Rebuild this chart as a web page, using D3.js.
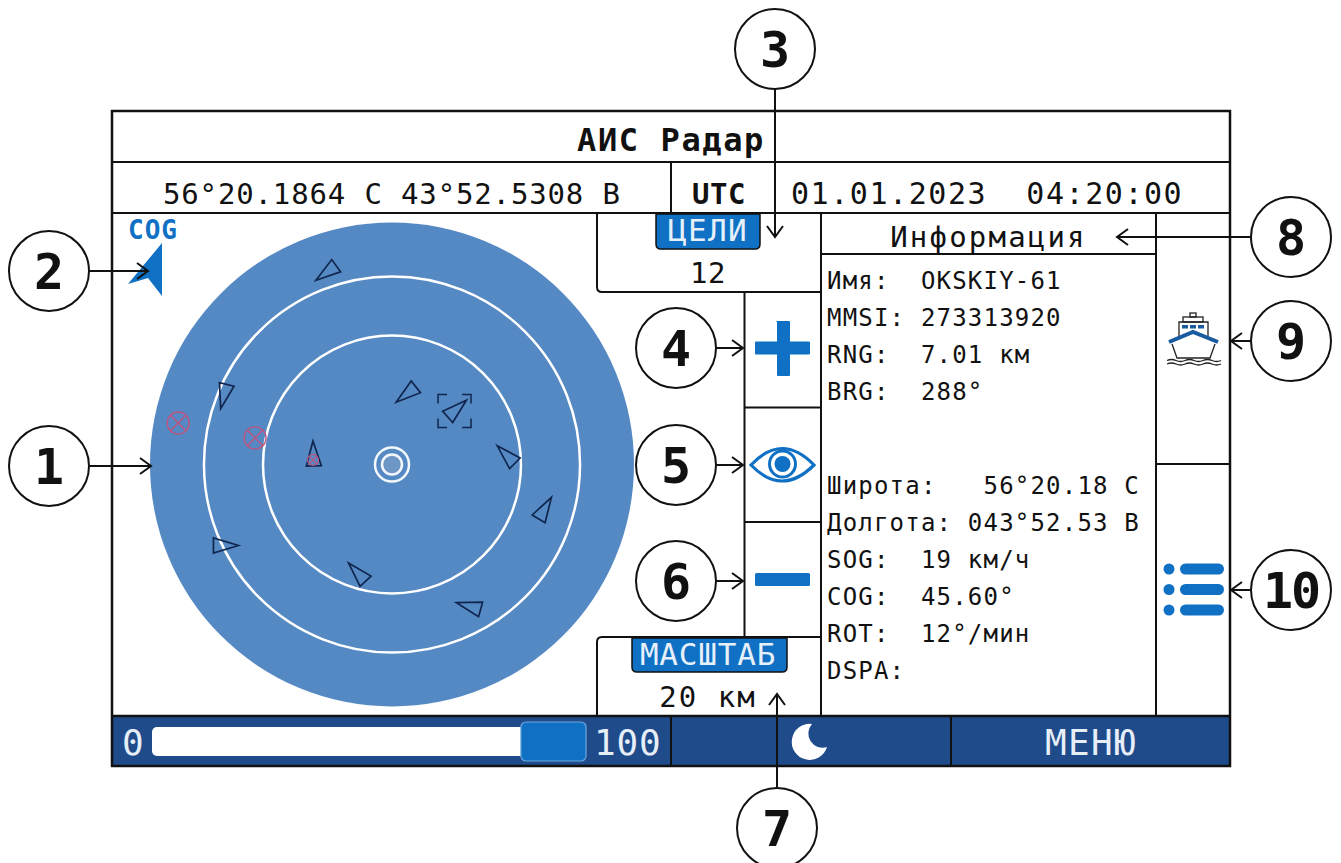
<!DOCTYPE html>
<html>
<head>
<meta charset="utf-8">
<script src="https://cdn.jsdelivr.net/npm/d3@7"></script>
<style>
  body { margin: 0; background: #fff; }
  text { font-family: "DejaVu Sans Mono", monospace; white-space: pre; }
</style>
</head>
<body>
<script>
// values
const titleText = "АИС Радар";
const positionText = "56°20.1864 С 43°52.5308 В";
const utcLabel = "UTC";
const dateText = "01.01.2023  04:20:00";
const targetsLabel = "ЦЕЛИ";
const targetsCount = "12";
const scaleLabel = "МАСШТАБ";
const scaleText = "20 км";
const infoTitle = "Информация";
const infoTop = ["Имя:  OKSKIY-61", "MMSI: 273313920", "RNG:  7.01 км", "BRG:  288°"];
const infoBottom = ["Широта:   56°20.18 С", "Долгота: 043°52.53 В", "SOG:  19 км/ч", "COG:  45.60°", "ROT:  12°/мин", "DSPA:"];
const menuText = "МЕНЮ";

// radar targets: range km, bearing deg, course deg
const radarMaxKm = 20;
const ringKm = [15.54, 10.66];
const targetRange   = [16.74, 15.0, 6.56, 5.9, 7.09, 9.46, 13.15, 13.3, 9.35, 15.27];
const targetBearing = [341, 292, 278, 11.3, 49.3, 85, 105.9, 151.6, 198, 244];
const targetCourse  = [234, 194, 358, 232, 48.3, 315, 30.8, 285.6, 317, 90];
const selectedTarget = 4;
const lostRange   = [18.0, 11.53];
const lostBearing = [281, 281];
const alarmRange   = [6.54];
const alarmBearing = [273.3];

const sliderMin = 0, sliderMax = 100, sliderValue = 85;
const calloutNames = ["1", "2", "3", "4", "5", "6", "7", "8", "9", "10"];

const blue = "#0f70c4", barBlue = "#1f4b8b", radarBlue = "#5589c4";

const svg = d3.select("body").append("svg")
  .attr("width", 1341)
  .attr("height", 863);

function label(s, x, y, size, spacing, opts) {
  opts = opts || {};
  return svg.append("text")
    .attr("x", x).attr("y", y)
    .attr("font-size", size)
    .attr("letter-spacing", spacing)
    .attr("text-anchor", opts.anchor || "start")
    .attr("font-weight", opts.weight || "normal")
    .attr("fill", opts.fill || "#111")
    .text(s);
}

function rule(x1, y1, x2, y2, w) {
  svg.append("line")
    .attr("x1", x1).attr("y1", y1).attr("x2", x2).attr("y2", y2)
    .attr("stroke", "#111")
    .attr("stroke-width", w || 2);
}

// radar
const rScale = d3.scaleLinear().domain([0, radarMaxKm]).range([0, 242]);
const radar = svg.append("g").attr("transform", "translate(392,464.5)");

radar.append("circle").attr("r", rScale(radarMaxKm)).attr("fill", radarBlue);

radar.selectAll(".ring")
  .data(ringKm)
  .enter()
  .append("circle")
  .attr("class", "ring")
  .attr("r", d => rScale(d))
  .attr("fill", "none")
  .attr("stroke", "#fff")
  .attr("stroke-width", 2.5);

// own ship
radar.append("circle").attr("r", 17).attr("fill", "none").attr("stroke", "#f4f8fc").attr("stroke-width", 2.5);
radar.append("circle").attr("r", 10).attr("fill", "#6f97c6").attr("stroke", "#f4f8fc").attr("stroke-width", 2.5);

const polar = (km, deg) => d3.pointRadial(deg * Math.PI / 180, rScale(km));
const triangle = d3.line()([[0, -12.5], [7.5, 12.5], [-7.5, 12.5]]) + "Z";

radar.selectAll(".target")
  .data(targetRange)
  .enter()
  .append("path")
  .attr("class", "target")
  .attr("d", triangle)
  .attr("transform", (d, i) => {
    const p = polar(d, targetBearing[i]);
    return "translate(" + p[0] + "," + p[1] + ") rotate(" + targetCourse[i] + ")";
  })
  .attr("fill", "none")
  .attr("stroke", "#10264f")
  .attr("stroke-width", 1.7);

// selection brackets round the picked target
const selPos = polar(targetRange[selectedTarget], targetBearing[selectedTarget]);
radar.append("rect")
  .attr("x", selPos[0] - 19)
  .attr("y", selPos[1] - 14)
  .attr("width", 33)
  .attr("height", 33)
  .attr("fill", "none")
  .attr("stroke", "#10264f")
  .attr("stroke-width", 1.5)
  .attr("stroke-dasharray", "9 15 18 15 18 15 18 15 9");

function crossed(km, deg, r, sw) {
  const p = polar(km, deg);
  const g = radar.append("g").attr("transform", "translate(" + p[0] + "," + p[1] + ")")
    .attr("fill", "none").attr("stroke", "#bd5580").attr("stroke-width", sw);
  const k = r * Math.SQRT1_2;
  g.append("circle").attr("r", r);
  g.append("line").attr("x1", -k).attr("y1", -k).attr("x2", k).attr("y2", k);
  g.append("line").attr("x1", -k).attr("y1", k).attr("x2", k).attr("y2", -k);
}
lostRange.forEach((d, i) => crossed(d, lostBearing[i], 11, 1.4));
alarmRange.forEach((d, i) => crossed(d, alarmBearing[i], 5.5, 1.2));

// COG marker
svg.append("path").attr("d", "M162 243 L162 296 L148 278 L128 284 Z").attr("fill", blue);
label("COG", 153, 239, 26, 1, {anchor: "middle", weight: "bold", fill: blue});

// bottom bar
svg.append("rect").attr("x", 112).attr("y", 716).attr("width", 1118).attr("height", 50).attr("fill", barBlue);

const sliderScale = d3.scaleLinear().domain([sliderMin, sliderMax]).range([152, 586]);
svg.append("rect")
  .attr("x", sliderScale(sliderMin)).attr("y", 727)
  .attr("width", sliderScale(sliderValue) - sliderScale(sliderMin) + 6).attr("height", 29)
  .attr("rx", 5).attr("fill", "#fff");
svg.append("rect")
  .attr("x", sliderScale(sliderValue)).attr("y", 722)
  .attr("width", sliderScale(sliderMax) - sliderScale(sliderValue)).attr("height", 39)
  .attr("rx", 5).attr("fill", blue).attr("stroke", "#6fa8dc").attr("stroke-width", 1.2);
label(String(sliderMin), 122, 755, 36, 0, {fill: "#e6eef8"});
label(String(sliderMax), 594, 755, 36, 0.8, {fill: "#e6eef8"});
label(menuText, 1091, 755, 36, 1.3, {anchor: "middle", fill: "#e6eef8"});
svg.append("path").attr("d", "M812 724 A18 18 0 1 0 827 747 A14.2 14.2 0 0 1 812 724 Z").attr("fill", "#fff");

// frame lines
svg.append("rect").attr("x", 112).attr("y", 111).attr("width", 1118).attr("height", 655)
  .attr("fill", "none").attr("stroke", "#111").attr("stroke-width", 2.5);
rule(112, 162, 1230, 162);
rule(112, 213, 1230, 213);
rule(112, 716, 1230, 716, 2.5);
rule(671, 162, 671, 213);
rule(671, 716, 671, 766);
rule(951, 716, 951, 766);
rule(821, 213, 821, 716);
rule(1156, 213, 1156, 716);
rule(821, 254, 1156, 254);
rule(1156, 464, 1230, 464);
rule(744.5, 292, 744.5, 637);
rule(744.5, 407.5, 821, 407.5);
rule(744.5, 522, 821, 522);
svg.append("path").attr("d", "M597 213 V287 Q597 292 602 292 H821 M597 716 V642 Q597 637 602 637 H821")
  .attr("fill", "none").attr("stroke", "#111").attr("stroke-width", 2);

// badges
svg.append("path").attr("d", "M656 214 H760 V244 Q760 249 755 249 H661 Q656 249 656 244 Z")
  .attr("fill", blue).attr("stroke", "#111").attr("stroke-width", 1.5);
svg.append("path").attr("d", "M632 638 H787 V667 Q787 672 782 672 H637 Q632 672 632 667 Z")
  .attr("fill", blue).attr("stroke", "#111").attr("stroke-width", 1.5);

// texts
label(titleText, 671, 151, 32, 1.6, {anchor: "middle", weight: "bold"});
label(positionText, 163, 204, 29, 0.85);
label(utcLabel, 692, 204, 29, 0.6, {weight: "bold"});
label(dateText, 791, 204, 30, 1.55);
label(targetsLabel, 708, 241, 31, 1.3, {anchor: "middle", fill: "#e6f0fa"});
label(targetsCount, 708, 283, 29, 0.6, {anchor: "middle"});
label(scaleLabel, 708, 665, 31, 0.8, {anchor: "middle", fill: "#e6f0fa"});
label(scaleText, 708, 707, 29, 2, {anchor: "middle"});
label(infoTitle, 988.5, 247, 29, 2.2, {anchor: "middle"});
infoTop.forEach((s, i) => label(s, 827, 289 + i * 37, 24, 1.2));
infoBottom.forEach((s, i) => label(s, 827, 494 + i * 37, 24, 1.2));

// plus, minus
svg.append("path").attr("d", "M776 321 h13 a1 1 0 0 1 1 1 V341.5 H809 a1 1 0 0 1 1 1 v11 a1 1 0 0 1 -1 1 H790 V375 a1 1 0 0 1 -1 1 h-11 a1 1 0 0 1 -1 -1 V354.5 H756 a1 1 0 0 1 -1 -1 v-11 a1 1 0 0 1 1 -1 H777 V322 Z").attr("fill", blue);
svg.append("rect").attr("x", 755).attr("y", 573).attr("width", 55).attr("height", 13).attr("rx", 1.5).attr("fill", blue);

// eye
svg.append("path").attr("d", "M751 465 Q782 432 814 465 Q782 497 751 465 Z")
  .attr("fill", "none").attr("stroke", blue).attr("stroke-width", 3.2);
svg.append("circle").attr("cx", 782.5).attr("cy", 464).attr("r", 13).attr("fill", "none").attr("stroke", blue).attr("stroke-width", 3);
svg.append("circle").attr("cx", 782.5).attr("cy", 464).attr("r", 8).attr("fill", blue);

// list icon
[569, 589.5, 610].forEach(y => {
  svg.append("circle").attr("cx", 1169).attr("cy", y).attr("r", 5.5).attr("fill", blue);
  svg.append("rect").attr("x", 1180).attr("y", y - 5.5).attr("width", 44).attr("height", 11).attr("rx", 5.5).attr("fill", blue);
});

// ship icon
const ship = svg.append("g").attr("fill", "none").attr("stroke", "#222").attr("stroke-width", 1.3);
ship.append("rect").attr("x", 1190).attr("y", 313).attr("width", 6).attr("height", 4);
ship.append("rect").attr("x", 1183).attr("y", 317).attr("width", 20).attr("height", 5);
ship.append("path").attr("d", "M1179 336 V322 H1208 V336");
ship.append("path").attr("d", "M1172 344 L1177 358 H1210 L1215 344");
ship.selectAll(".win").data([1182, 1190, 1198]).enter().append("rect")
  .attr("x", d => d).attr("y", 325).attr("width", 6).attr("height", 3.5)
  .attr("fill", "#1a5a9e").attr("stroke", "none");
ship.append("path").attr("d", "M1169 342 L1193 332 L1218 342")
  .attr("stroke", "#1a5a9e").attr("stroke-width", 4);
ship.append("path").attr("d", "M1167 360.5 q4.5 -2 9 0 t9 0 t9 0 t9 0 t9 0 t9 0 M1167 364 q4.5 -2 9 0 t9 0 t9 0 t9 0 t9 0 t9 0");

// callouts
const calloutCx = [49, 49, 775, 676, 676, 676, 777, 1291, 1291, 1291];
const calloutCy = [466, 271, 49, 348, 465, 581, 828, 237, 341, 590];
const leaderEnd = [[151, 466], [148, 271], [775, 237], [743, 348], [743, 465], [743, 581], [777, 694], [1117, 237], [1231, 341], [1231, 590]];

calloutNames.forEach((name, i) => {
  const cx = calloutCx[i], cy = calloutCy[i], e = leaderEnd[i];
  const dx = e[0] - cx, dy = e[1] - cy, len = Math.hypot(dx, dy);
  const ux = dx / len, uy = dy / len;
  rule(cx + ux * 40, cy + uy * 40, e[0], e[1], 2);
  svg.append("path")
    .attr("d", "M" + (e[0] - ux * 11 - uy * 8) + " " + (e[1] - uy * 11 + ux * 8) +
      " L" + e[0] + " " + e[1] +
      " L" + (e[0] - ux * 11 + uy * 8) + " " + (e[1] - uy * 11 - ux * 8))
    .attr("fill", "none").attr("stroke", "#111").attr("stroke-width", 2);
  svg.append("circle").attr("cx", cx).attr("cy", cy).attr("r", 40)
    .attr("fill", "#fff").attr("stroke", "#111").attr("stroke-width", 2);
  label(name, cx, cy + 18, 50, name.length > 1 ? -2 : 0, {anchor: "middle", weight: "bold"});
});
</script>
</body>
</html>
